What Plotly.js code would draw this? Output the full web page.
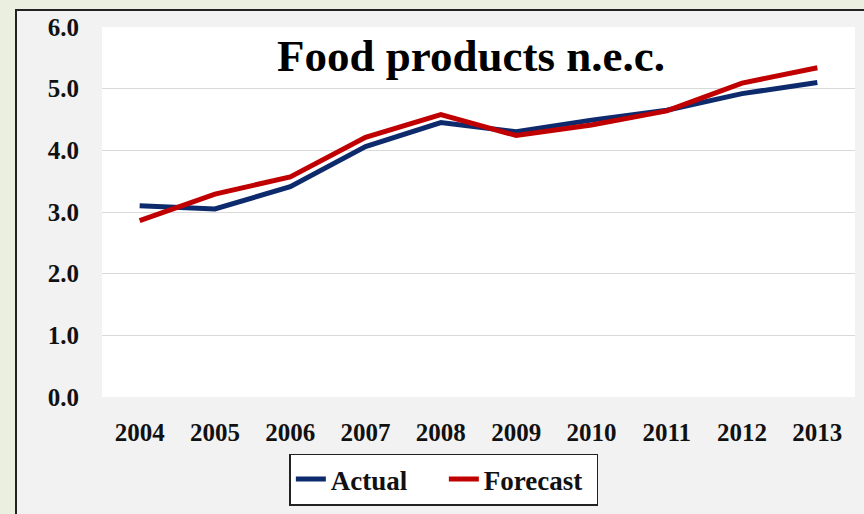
<!DOCTYPE html>
<html>
<head>
<meta charset="utf-8">
<script src="https://cdn.plot.ly/plotly-3.0.1.min.js"></script>
<style>
  html, body { margin: 0; padding: 0; width: 864px; height: 514px; overflow: hidden; background: #ebefdf; }
  #frame { position: absolute; left: 15px; top: 9px; width: 860px; height: 520px; background: #f2f2f2; border-left: 2px solid #222; border-top: 2px solid #222; }
  #chart { position: absolute; left: 0; top: 0; width: 864px; height: 514px; }
</style>
</head>
<body>
<div id="frame"></div>
<div id="chart"></div>
<script>
const years = ['2004','2005','2006','2007','2008','2009','2010','2011','2012','2013'];
const actual = [3.10, 3.05, 3.41, 4.06, 4.45, 4.30, 4.49, 4.65, 4.92, 5.10];
const forecast = [2.86, 3.29, 3.57, 4.21, 4.58, 4.24, 4.41, 4.64, 5.09, 5.34];
const yTicks = [0, 1, 2, 3, 4, 5, 6];

const serif = 'Liberation Serif, Times New Roman, serif';

const traces = [
  { x: years, y: actual, name: 'Actual', type: 'scatter', mode: 'lines',
    line: { color: '#0d2a6c', width: 5 } },
  { x: years, y: forecast, name: 'Forecast', type: 'scatter', mode: 'lines',
    line: { color: '#c00000', width: 5 } }
];

const layout = {
  width: 864, height: 514,
  margin: { l: 102, r: 9, t: 27, b: 115 },
  paper_bgcolor: 'rgba(0,0,0,0)',
  plot_bgcolor: '#ffffff',
  title: {
    text: 'Food products n.e.c.',
    font: { family: serif, size: 45, color: '#000', weight: 'bold' },
    x: 0.49, xanchor: 'center', xref: 'paper',
    y: 0.893, yanchor: 'middle', yref: 'container'
  },
  xaxis: {
    type: 'category', range: [-0.5, 9.5],
    showgrid: false, zeroline: false, showline: false,
    ticks: '', ticklabelstandoff: 18,
    tickfont: { family: serif, size: 25, color: '#111', weight: 'bold' }
  },
  yaxis: {
    range: [0, 6], tickvals: yTicks, tickformat: '.1f',
    showgrid: true, gridcolor: '#d9d9d9', gridwidth: 1,
    zeroline: false, showline: false, ticks: '',
    ticklabelstandoff: 22,
    tickfont: { family: serif, size: 25, color: '#111', weight: 'bold' }
  },
  showlegend: true,
  legend: {
    orientation: 'h',
    x: 0.454, xanchor: 'center',
    y: -0.223, yanchor: 'middle',
    bgcolor: '#ffffff', bordercolor: '#222', borderwidth: 1.5,
    font: { family: serif, size: 27, color: '#111', weight: 'bold' },
    itemwidth: 30, entrywidth: 108, entrywidthmode: 'pixels'
  }
};

Plotly.newPlot('chart', traces, layout, { displayModeBar: false, staticPlot: true });
</script>
</body>
</html>
